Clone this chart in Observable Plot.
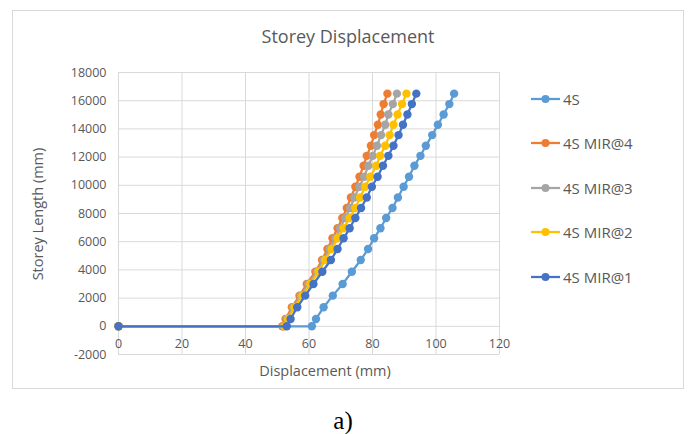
<!DOCTYPE html>
<html>
<head>
<meta charset="utf-8">
<script src="https://cdn.jsdelivr.net/npm/d3@7"></script>
<script src="https://cdn.jsdelivr.net/npm/@observablehq/plot@0.6"></script>
<style>
  html, body { margin: 0; padding: 0; background: #fff; }
  #wrap { position: relative; width: 688px; height: 434px; overflow: hidden; font-family: 'Open Sans', sans-serif; color: #595959; }
  #frame { position: absolute; left: 12px; top: 10px; width: 672px; height: 379px; border: 1px solid #d9d9d9; box-sizing: border-box; }
  #chart { position: absolute; left: 0; top: 0; }
  .lbl { position: absolute; white-space: nowrap; transform: translate(-50%, -50%); }
  .leg { position: absolute; display: flex; align-items: center; transform: translateY(-50%); font-size: 15px; color: #595959; }
  .leg svg { display: block; margin-right: 2px; }
</style>
</head>
<body>
<div id="wrap">
  <div id="frame"></div>
  <div id="chart"></div>
  <div class="lbl" style="left:348px; top:36px; font-size:18px;">Storey Displacement</div>
  <div class="lbl" style="left:37px; top:214px; font-size:14.5px; transform: translate(-50%, -50%) rotate(-90deg);">Storey Length (mm)</div>
  <div class="lbl" style="left:325px; top:370px; font-size:14.5px;">Displacement (mm)</div>
  <div class="lbl" style="left:343px; top:421px; font-size:25px; font-family:'Liberation Serif', serif; color:#000;">a)</div>
  <div id="legend"></div>
</div>
<script>
// ---- data ----
const seriesNames = ["4S", "4S MIR@4", "4S MIR@3", "4S MIR@2", "4S MIR@1"];
const seriesColors = ["#5B9BD5", "#ED7D31", "#A5A5A5", "#FFC000", "#4472C4"];

// storey length (mm) at each recorded point
const storeyLevels = [0, 0, 520, 1350, 2175, 3000, 3870, 4700, 5480, 6240, 6950, 7680, 8390, 9140, 9900, 10610, 11390, 12090, 12800, 13560, 14290, 15020, 15760, 16500];

// displacement (mm) per series
const disp4S     = [0, 60.9, 62.2, 64.6, 67.5, 70.6, 73.5, 76.3, 78.6, 80.5, 82.5, 84.3, 86.3, 88.0, 89.8, 91.5, 93.2, 95.1, 96.8, 98.8, 100.6, 102.4, 104.2, 105.7];
const dispMIR4   = [0, 51.6, 52.6, 54.6, 57.0, 59.3, 62.0, 64.1, 65.8, 67.4, 69.0, 70.5, 71.9, 73.2, 74.6, 75.9, 77.2, 78.2, 79.5, 80.5, 81.7, 82.6, 83.5, 84.7];
const dispMIR3   = [0, 51.9, 53.0, 55.0, 57.4, 59.8, 62.5, 64.6, 66.5, 68.3, 69.8, 71.4, 73.0, 74.3, 75.9, 77.4, 78.7, 80.1, 81.4, 82.7, 84.0, 85.0, 86.4, 87.7];
const dispMIR2   = [0, 52.3, 53.4, 55.4, 57.9, 60.4, 63.0, 65.1, 67.2, 69.0, 70.9, 72.8, 74.6, 76.1, 77.7, 79.3, 81.2, 82.4, 84.0, 85.4, 86.6, 87.9, 89.3, 90.7];
const dispMIR1   = [0, 53.0, 54.2, 56.3, 58.8, 61.4, 64.2, 66.9, 69.0, 70.9, 72.8, 74.6, 76.4, 78.2, 79.8, 81.6, 83.3, 85.0, 86.6, 88.2, 89.6, 91.0, 92.4, 93.8];

const xTicks = [0, 20, 40, 60, 80, 100, 120];
const yTicks = [-2000, 0, 2000, 4000, 6000, 8000, 10000, 12000, 14000, 16000, 18000];

// ---- build table ----
const seriesDisp = [disp4S, dispMIR4, dispMIR3, dispMIR2, dispMIR1];
const rows = [];
seriesNames.forEach((name, s) => {
  seriesDisp[s].forEach((x, i) => rows.push({series: name, x, y: storeyLevels[i]}));
});

const marks = [
  Plot.gridY(yTicks, {stroke: "#d9d9d9", strokeOpacity: 1, strokeWidth: 1}),
  Plot.gridX(xTicks, {stroke: "#d9d9d9", strokeOpacity: 1, strokeWidth: 1}),
  Plot.axisY(yTicks, {tickSize: 0, tickPadding: 12, tickFormat: d => String(d), fontSize: 12.5, fill: "#595959", label: null}),
  Plot.text(xTicks, {x: d => d, y: () => 0, dy: 18, text: d => String(d), fontSize: 12.5, fill: "#595959"})
];
seriesNames.forEach((name, s) => {
  const d = rows.filter(r => r.series === name);
  marks.push(Plot.line(d, {x: "x", y: "y", stroke: seriesColors[s], strokeWidth: 2.25}));
  marks.push(Plot.dot(d, {x: "x", y: "y", r: 4.2, fill: seriesColors[s], stroke: "none"}));
});

const chart = Plot.plot({
  width: 688,
  height: 434,
  marginLeft: 118,
  marginRight: 189,
  marginTop: 72,
  marginBottom: 80,
  style: {fontFamily: "'Open Sans', sans-serif", background: "transparent", overflow: "visible"},
  x: {domain: [0, 120], axis: null},
  y: {domain: [-2000, 18000], axis: null},
  marks
});
document.getElementById("chart").appendChild(chart);

// ---- legend ----
const legend = document.getElementById("legend");
const legendTop = 99, legendStep = 44.4;
seriesNames.forEach((name, s) => {
  const item = document.createElement("div");
  item.className = "leg";
  item.style.left = "531px";
  item.style.top = (legendTop + s * legendStep) + "px";
  item.innerHTML = `<svg width="30" height="10"><line x1="0" y1="5" x2="29" y2="5" stroke="${seriesColors[s]}" stroke-width="2.25"/><circle cx="14.5" cy="5" r="4" fill="${seriesColors[s]}"/></svg><span>${name}</span>`;
  legend.appendChild(item);
});
</script>
</body>
</html>
